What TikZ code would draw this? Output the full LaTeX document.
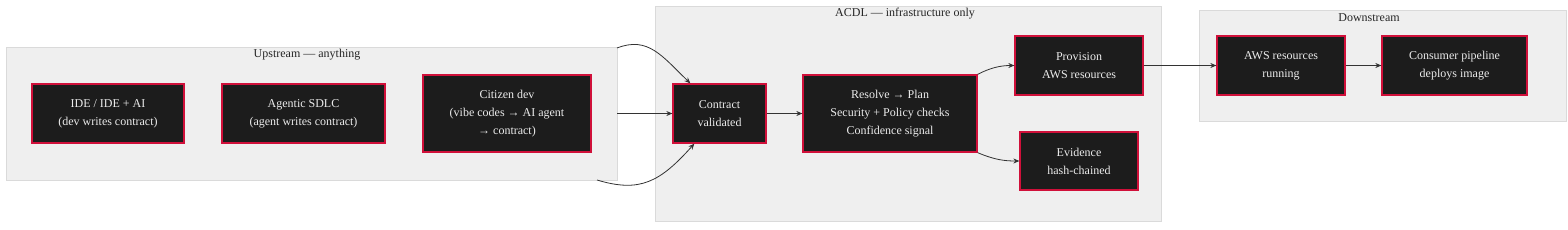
\documentclass[tikz,border=0pt]{standalone}
\usepackage{fontspec}
\setmainfont{Liberation Serif}
\usetikzlibrary{arrows.meta}
\definecolor{clfill}{HTML}{EFEFEF}
\definecolor{cldraw}{HTML}{DADADA}
\definecolor{nfill}{HTML}{1C1C1C}
\definecolor{ndraw}{HTML}{D0103A}
\definecolor{ntext}{HTML}{EBEBEB}
\definecolor{edge}{HTML}{333333}
\begin{document}
\begin{tikzpicture}[x=1pt,y=-1pt,
  cluster/.style={draw=cldraw,fill=clfill,line width=0.8pt},
  ctitle/.style={font=\fontsize{12}{14}\selectfont,text=black!85,anchor=center},
  box/.style={draw=ndraw,fill=nfill,line width=1.3pt,text=ntext,align=center,
    font=\fontsize{12}{18}\selectfont,inner sep=0pt},
  conn/.style={draw=edge,line width=0.8pt,-{Stealth[length=6pt,width=5pt]}}]
\useasboundingbox (0,0) rectangle (1568,230);
% clusters
\draw[cluster] (6,47) rectangle (617,180);
\node[ctitle] (tup) at (307,55) {Upstream — anything};
\draw[cluster] (655,6) rectangle (1161,221);
\node[ctitle] (tacdl) at (905,14) {ACDL — infrastructure only};
\draw[cluster] (1199,10) rectangle (1566,121);
\node[ctitle] (tdown) at (1369,18) {Downstream};
% nodes
\node[box,minimum width=152pt,minimum height=59pt] (ide) at (108,113.5) {IDE / IDE + AI\\(dev writes contract)};
\node[box,minimum width=163pt,minimum height=59pt] (agent) at (303.5,113.5) {Agentic SDLC\\(agent writes contract)};
\node[box,minimum width=168pt,minimum height=77pt] (citizen) at (507,113.5) {Citizen dev\\(vibe codes → AI agent\\→ contract)};
\node[box,minimum width=93pt,minimum height=59pt] (contract) at (719.5,113.5) {Contract\\validated};
\node[box,minimum width=174pt,minimum height=77pt] (resolve) at (890,113.5) {Resolve → Plan\\Security + Policy checks\\Confidence signal};
\node[box,minimum width=128pt,minimum height=59pt] (prov) at (1079,65.5) {Provision\\AWS resources};
\node[box,minimum width=118pt,minimum height=58pt] (evid) at (1079,161) {Evidence\\hash-chained};
\node[box,minimum width=128pt,minimum height=59pt] (aws) at (1281,65.5) {AWS resources\\running};
\node[box,minimum width=145pt,minimum height=59pt] (cons) at (1454.5,65.5) {Consumer pipeline\\deploys image};
% edge start points on the Upstream boundary
\coordinate (u1) at (617,48);
\coordinate (u2) at (617,113.5);
\coordinate (u3) at (597,180);
% connectors
\draw[conn] (u1) .. controls (648,36) and (662,56) .. ([xshift=18pt]contract.north west);
\draw[conn] (u2) -- (contract.west);
\draw[conn] (u3) .. controls (640,193) and (660,182) .. ([xshift=22pt]contract.south west);
\draw[conn] (contract.east) -- (resolve.west);
\draw[conn] (resolve.north east) .. controls (990,68) and (1000,65.5) .. (prov.west);
\draw[conn] (resolve.south east) .. controls (995,160) and (1005,161) .. (evid.west);
\draw[conn] (prov.east) -- (aws.west);
\draw[conn] (aws.east) -- (cons.west);
\end{tikzpicture}
\end{document}
